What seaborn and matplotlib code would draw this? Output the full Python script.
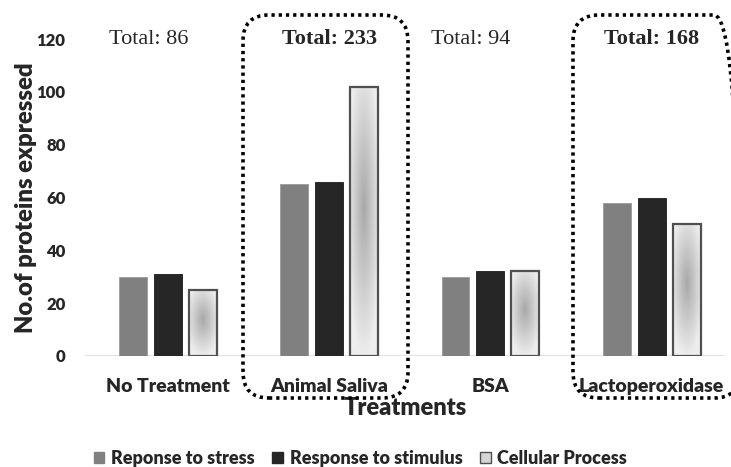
import numpy as np
import pandas as pd
import seaborn as sns
import matplotlib.pyplot as plt
from matplotlib.patches import FancyBboxPatch, Patch
from matplotlib.transforms import IdentityTransform

treatments = ["No Treatment", "Animal Saliva", "BSA", "Lactoperoxidase"]
stress = [30, 65, 30, 58]
stimulus = [31, 66, 32, 60]
cellular = [25, 102, 32, 50]
totals = [86, 233, 94, 168]
highlight = [False, True, False, True]
series = ["Reponse to stress", "Response to stimulus", "Cellular Process"]

data = pd.DataFrame({
    "Treatment": treatments * 3,
    "Category": [series[0]] * 4 + [series[1]] * 4 + [series[2]] * 4,
    "Value": stress + stimulus + cellular,
})

sns.set_style("white")
plt.rcParams["font.family"] = ["Lato", "DejaVu Sans"]

colors = {series[0]: "#808080", series[1]: "#262626", series[2]: "#d6d6d6"}

fig = plt.figure(figsize=(7.31, 4.67), dpi=100)
ax = fig.add_axes([85 / 731, 1 - 356 / 467, 640 / 731, 317 / 467])

sns.barplot(data=data, x="Treatment", y="Value", hue="Category", order=treatments,
            hue_order=series, palette=colors, width=0.65, gap=0.2, ax=ax, legend=False)

# edges
for p in ax.containers[0]:
    p.set_edgecolor("#9a9a9a"); p.set_linewidth(0.6)
for p in ax.containers[1]:
    p.set_edgecolor("#1a1a1a"); p.set_linewidth(0.6)

# radial gray gradient for the Cellular Process bars
yy, xx = np.mgrid[-1:1:120j, -1:1:40j]
grad = np.sqrt(xx ** 2 + ((yy - 0.1) * 1.1) ** 2)
grad = np.clip(0.66 + 0.22 * grad, 0, 0.93)
for p in ax.containers[2]:
    p.set_facecolor("none"); p.set_edgecolor("#505050"); p.set_linewidth(1.6)
    x0, y0 = p.get_x(), p.get_y()
    im = ax.imshow(grad, cmap="gray", vmin=0, vmax=1, aspect="auto", origin="lower",
                   extent=[x0, x0 + p.get_width(), y0, y0 + p.get_height()], zorder=p.get_zorder() - 0.1)
    im.set_clip_path(p)

ax.set_xlim(-0.515, 3.455)
ax.set_ylim(0, 120)
ax.set_yticks(range(0, 121, 20))
ax.axhline(0, color="#e3e3e3", lw=1.5, zorder=0)
sns.despine(ax=ax, left=True, bottom=True)
ax.tick_params(axis="both", length=0)
ax.tick_params(axis="x", pad=16, labelsize=14)
ax.tick_params(axis="y", pad=14, labelsize=12)
for lbl in ax.get_xticklabels() + ax.get_yticklabels():
    lbl.set_fontweight("heavy")

ax.set_xlabel("Treatments", fontsize=17, fontweight="heavy", labelpad=1)
ylab = ax.set_ylabel("No.of proteins expressed", fontsize=14.5, fontweight="heavy")
ax.yaxis.set_label_coords(-0.075, 0.5)

# fit the y label to the reference length (~270 px)
fig.canvas.draw()
h = ylab.get_window_extent().height
ylab.set_fontsize(14.5 * 270 / h)

# totals above each group
for i, (t, hl) in enumerate(zip(totals, highlight)):
    ax.text(i + (0 if hl else -0.12), 120, f"Total: {t}", ha="center", va="center",
            fontsize=16, fontweight="bold" if hl else "normal",
            family="Liberation Serif", clip_on=False)

# dotted rounded boxes around the highlighted groups
for x0, x1 in [(243, 408), (573, 740)]:
    box = FancyBboxPatch((x0, 467 - 398), x1 - x0, 383,
                         boxstyle="round,pad=0,rounding_size=26",
                         transform=IdentityTransform(), fill=False, ec="black",
                         lw=2.6, linestyle=(0, (0.9, 1.1)), clip_on=False)
    fig.patches.append(box)

handles = [Patch(facecolor=colors[s], edgecolor="#505050" if s == series[2] else colors[s], lw=1)
           for s in series]
fig.legend(handles, series, loc="lower center", bbox_to_anchor=(0.493, -0.035), ncol=3, frameon=False,
           handlelength=0.6, handleheight=0.6, handletextpad=0.35, columnspacing=1.0,
           prop={"weight": "heavy", "size": 13})

plt.savefig("out.png", dpi=100)
